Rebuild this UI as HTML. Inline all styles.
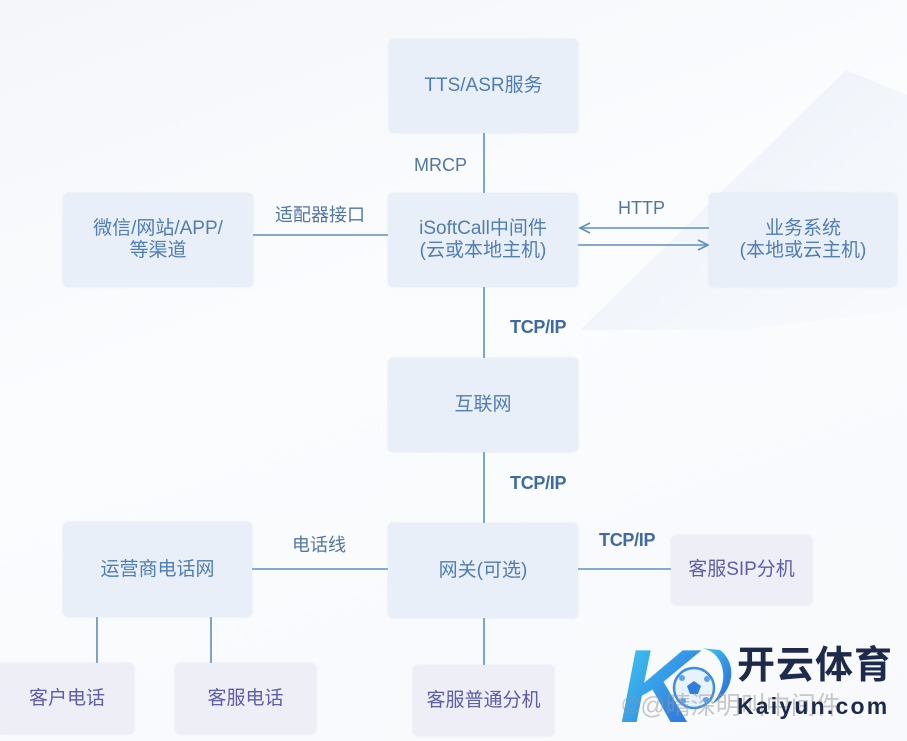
<!DOCTYPE html>
<html><head><meta charset="utf-8">
<style>
*{margin:0;padding:0;box-sizing:border-box}
html,body{width:907px;height:741px;overflow:hidden}
body{position:relative;background:linear-gradient(160deg,#f4f6fa 0%,#fbfcfe 40%,#f7f9fc 100%);font-family:"Liberation Sans","Noto Sans CJK SC",sans-serif}
.b{position:absolute;background:#e9eff8;border-radius:5px;display:flex;align-items:center;justify-content:center;text-align:center;color:#4f7db6;font-size:19px;line-height:22px;box-shadow:0 0 2px rgba(180,195,220,.35)}
.p{background:#eeeef7;color:#5b5eae}
.l{position:absolute;color:#4f76a8;font-size:18px;white-space:nowrap;line-height:20px}
.t{color:#3e6ba6;font-size:18px;font-weight:bold;letter-spacing:-0.3px}
svg{position:absolute;left:0;top:0}
</style></head><body>
<svg width="907" height="741">
<defs>
<linearGradient id="bg" x1="0" y1="0" x2="1" y2="1">
<stop offset="0" stop-color="#e2ebf7" stop-opacity=".8"/>
<stop offset="1" stop-color="#f0f4fa" stop-opacity=".2"/>
</linearGradient>
<linearGradient id="kg" x1="0" y1="0" x2="1" y2="1">
<stop offset="0" stop-color="#3fd0f2"/>
<stop offset="1" stop-color="#2a62de"/>
</linearGradient>
</defs>
<polygon points="846,70 907,95 907,310 740,330 580,330" fill="url(#bg)"/>
<g stroke="#5b8fc4" stroke-width="1.6" fill="none">
<line x1="484" y1="133" x2="484" y2="193"/>
<line x1="484" y1="287" x2="484" y2="358"/>
<line x1="484" y1="452" x2="484" y2="523"/>
<line x1="484" y1="618" x2="484" y2="665"/>
<line x1="253" y1="235" x2="388" y2="235"/>
<line x1="252" y1="569" x2="388" y2="569"/>
<line x1="578" y1="569" x2="671" y2="569"/>
<line x1="97" y1="617" x2="97" y2="664"/>
<line x1="211" y1="617" x2="211" y2="664"/>
<line x1="580" y1="228" x2="709" y2="228"/>
<polyline points="590,223 580,228 590,233"/>
<line x1="578" y1="245" x2="708" y2="245"/>
<polyline points="698,240 708,245 698,250"/>
</g>
<!-- logo -->
<text x="620" y="722" font-family="Liberation Sans, sans-serif" font-size="104" font-weight="bold" font-style="italic" fill="url(#kg)">K</text>
<path d="M700,648 C724,650 732,682 712,704 C734,692 738,664 720,650 Z" fill="url(#kg)"/>
<circle cx="694" cy="688" r="20" fill="#e8f2fc" stroke="#3a8ee8" stroke-width="2.5"/>
<polygon points="694,681 701,686 698,694 690,694 687,686" fill="#2f7fe0"/>
<circle cx="682" cy="678" r="3" fill="#5aa5f0"/><circle cx="707" cy="679" r="3" fill="#5aa5f0"/>
<circle cx="706" cy="700" r="3" fill="#5aa5f0"/><circle cx="683" cy="701" r="3" fill="#5aa5f0"/>
</svg>

<div class="b" style="left:389px;top:39px;width:189px;height:94px">TTS/ASR服务</div>
<div class="b" style="left:388px;top:193px;width:190px;height:94px">iSoftCall中间件<br>(云或本地主机)</div>
<div class="b" style="left:709px;top:193px;width:188px;height:94px">业务系统<br>(本地或云主机)</div>
<div class="b" style="left:63px;top:193px;width:190px;height:94px">微信/网站/APP/<br>等渠道</div>
<div class="b" style="left:388px;top:358px;width:190px;height:94px">互联网</div>
<div class="b" style="left:63px;top:522px;width:189px;height:95px">运营商电话网</div>
<div class="b" style="left:388px;top:523px;width:190px;height:95px">网关(可选)</div>
<div class="b p" style="left:671px;top:535px;width:141px;height:70px">客服SIP分机</div>
<div class="b p" style="left:-6px;top:663px;width:140px;height:71px;padding-left:6px">客户电话</div>
<div class="b p" style="left:175px;top:663px;width:141px;height:71px">客服电话</div>
<div class="b p" style="left:413px;top:665px;width:141px;height:71px">客服普通分机</div>

<div class="l" style="left:414px;top:155px">MRCP</div>
<div class="l" style="left:275px;top:205px">适配器接口</div>
<div class="l" style="left:618px;top:198px">HTTP</div>
<div class="l t" style="left:510px;top:317px">TCP/IP</div>
<div class="l t" style="left:510px;top:473px">TCP/IP</div>
<div class="l" style="left:292px;top:535px">电话线</div>
<div class="l t" style="left:599px;top:530px">TCP/IP</div>

<div style="position:absolute;left:737px;top:645px;font-size:38px;font-weight:bold;color:#1d2a4c;line-height:42px;white-space:nowrap;letter-spacing:1px">开云体育</div>
<div style="position:absolute;left:622px;top:692px;font-size:25px;color:rgba(150,150,150,.5);line-height:28px;white-space:nowrap">©@晴深明叫中间件</div>
<div style="position:absolute;left:737px;top:694px;font-size:23px;font-weight:bold;color:#1d2a4c;line-height:24px;white-space:nowrap;letter-spacing:2.2px">Kaiyun.com</div>
</body></html>
